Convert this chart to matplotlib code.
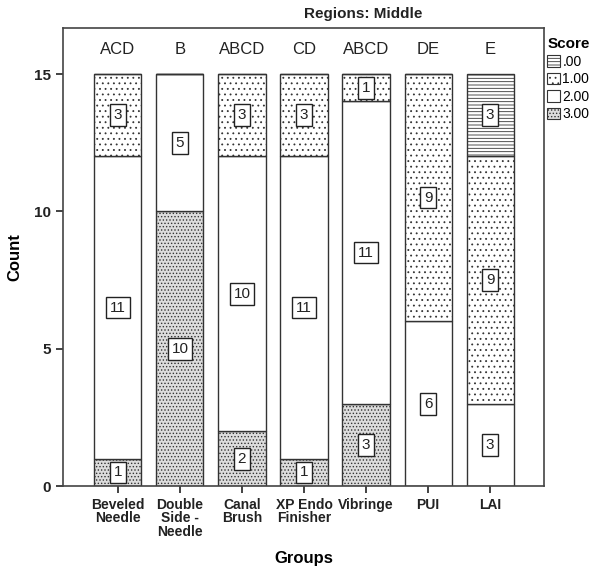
import numpy as np
import matplotlib
matplotlib.use('Agg')
import matplotlib.pyplot as plt
from matplotlib.patches import Patch

plt.rcParams['font.family'] = ['Liberation Sans', 'DejaVu Sans']
plt.rcParams['hatch.color'] = '#666666'
plt.rcParams['hatch.linewidth'] = 0.6

# ─── Data ─────────────────────────────────────────────────────
groups = ['Beveled\nNeedle', 'Double\nSide -\nNeedle', 'Canal\nBrush',
          'XP Endo\nFinisher', 'Vibringe', 'PUI', 'LAI']
letters = ['ACD', 'B', 'ABCD', 'CD', 'ABCD', 'DE', 'E']
score_labels = ['.00', '1.00', '2.00', '3.00']

# counts per score, stacked bottom-up as 3.00, 2.00, 1.00, .00
score_3 = [1, 10, 2, 1, 3, 0, 0]
score_2 = [11, 5, 10, 11, 11, 6, 3]
score_1 = [3, 0, 3, 3, 1, 9, 9]
score_0 = [0, 0, 0, 0, 0, 0, 3]

# ─── Styles ───────────────────────────────────────────────────
styles = {
    '3.00': dict(facecolor='#dcdcdc', hatch='.....'),
    '2.00': dict(facecolor='white', hatch=''),
    '1.00': dict(facecolor='white', hatch='...'),
    '.00': dict(facecolor='white', hatch='-----'),
}

fig = plt.figure(figsize=(5.98, 5.74), dpi=100)
ax = fig.add_axes([0.105, 0.153, 0.805, 0.798])

x = np.arange(len(groups))
width = 0.76
bottom = np.zeros(len(groups))
for key, vals in [('3.00', score_3), ('2.00', score_2),
                  ('1.00', score_1), ('.00', score_0)]:
    vals = np.array(vals, dtype=float)
    ax.bar(x, vals, width, bottom=bottom, edgecolor='#333333',
           linewidth=1.0, **styles[key])
    for xi, v, b in zip(x, vals, bottom):
        if v > 0:
            ax.text(xi, b + v / 2, f'{int(v)}', ha='center', va='center',
                    fontsize=11, color='#222222',
                    bbox=dict(boxstyle='square,pad=0.25', facecolor='white',
                              edgecolor='#222222', linewidth=1.0))
    bottom += vals

# significance letters above the bars
for xi, lab in zip(x, letters):
    ax.text(xi, 15.9, lab, ha='center', va='center', fontsize=12,
            color='#222222')

ax.set_xlim(-0.887, 6.87)
ax.set_ylim(0, 16.67)
ax.set_yticks([0, 5, 10, 15])
ax.set_xticks(x)
ax.set_xticklabels(groups, fontsize=10, fontweight='bold', linespacing=0.95)
ax.tick_params(axis='y', labelsize=11, length=5, width=1.2, colors='#222222')
ax.tick_params(axis='x', length=5, width=1.2, colors='#222222')
for lbl in ax.get_yticklabels():
    lbl.set_fontweight('bold')
for sp in ax.spines.values():
    sp.set_linewidth(1.2)
    sp.set_color('#444444')

ax.set_ylabel('Count', fontsize=12, fontweight='bold', labelpad=8)
ax.set_xlabel('Groups', fontsize=12, fontweight='bold')
ax.xaxis.set_label_coords(0.5, -0.142)
fig.text(0.607, 0.975, 'Regions: Middle', ha='center', va='center',
         fontsize=11, fontweight='bold', color='#222222')

handles = [Patch(edgecolor='#333333', linewidth=0.8, **styles[k])
           for k in score_labels]
leg = fig.legend(handles, score_labels, title='Score', loc='upper left',
                 bbox_to_anchor=(0.915, 0.935), frameon=False, fontsize=10,
                 handlelength=0.9, handleheight=0.9, handletextpad=0.2,
                 labelspacing=0.25, borderaxespad=0, borderpad=0)
leg.get_title().set_fontweight('bold')
leg.get_title().set_fontsize(11)
leg._legend_box.align = 'left'

fig.savefig('out.png', dpi=100)
